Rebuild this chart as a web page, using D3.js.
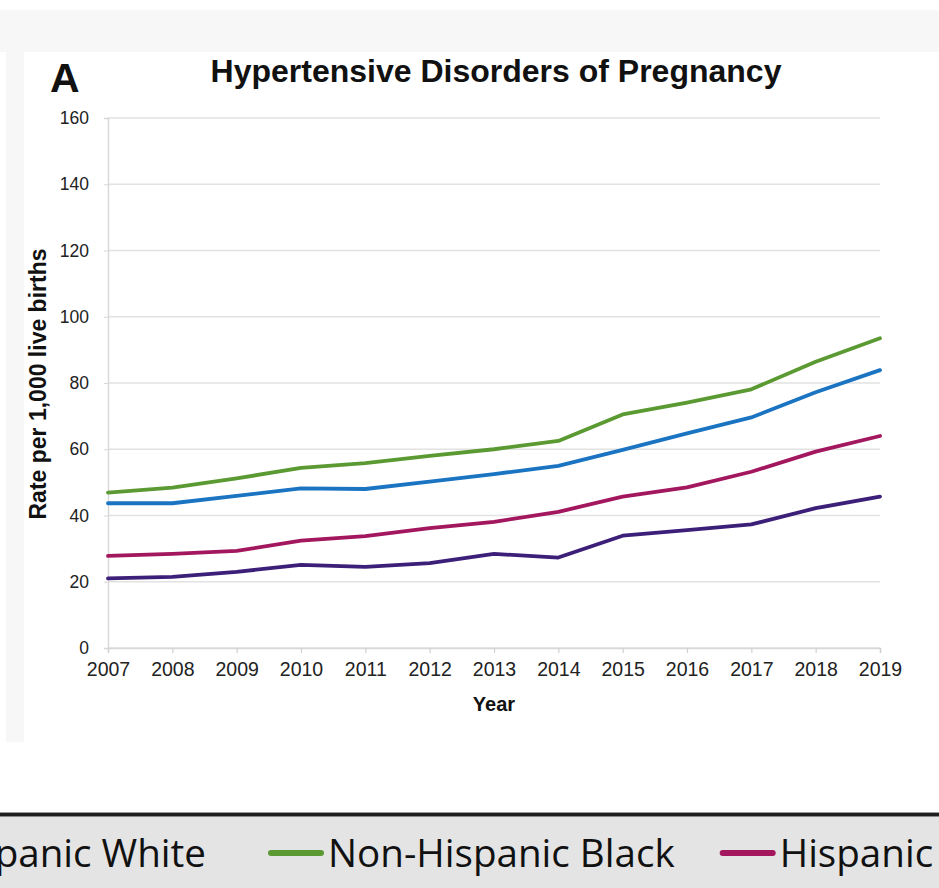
<!DOCTYPE html>
<html>
<head>
<meta charset="utf-8">
<script src="https://cdn.jsdelivr.net/npm/d3@7"></script>
<style>
  html, body { margin: 0; padding: 0; background: #ffffff; }
  svg { display: block; }
</style>
</head>
<body>
<svg id="chart" width="939" height="888"></svg>
<script>
// Rates of hypertensive disorders of pregnancy per 1,000 live births, by race/ethnicity
const years = [2007, 2008, 2009, 2010, 2011, 2012, 2013, 2014, 2015, 2016, 2017, 2018, 2019];
const seriesNames = ["Non-Hispanic White", "Non-Hispanic Black", "Hispanic", "Non-Hispanic Asian"];
const whiteRates    = [43.7, 43.7, 45.9, 48.2, 48.0, 50.2, 52.5, 55.0, 59.8, 64.8, 69.6, 77.2, 83.9];
const blackRates    = [46.9, 48.4, 51.2, 54.4, 55.8, 58.0, 60.0, 62.5, 70.5, 74.1, 78.1, 86.4, 93.5];
const hispanicRates = [27.8, 28.4, 29.3, 32.4, 33.8, 36.2, 38.1, 41.1, 45.7, 48.5, 53.2, 59.3, 64.0];
const asianRates    = [21.0, 21.5, 23.0, 25.1, 24.5, 25.6, 28.4, 27.3, 33.9, 35.6, 37.3, 42.2, 45.7];
const seriesColors  = ["#1a74c2", "#5b9a32", "#a3175e", "#3c1f78"];
const yTicks = [0, 20, 40, 60, 80, 100, 120, 140, 160];

const svg = d3.select("#chart");
const W = 939, H = 888;

// page backdrop: pale grey frame around the white panel, legend strip at the bottom
svg.append("rect").attr("x", 0).attr("y", 0).attr("width", W).attr("height", H).attr("fill", "#ffffff");
svg.append("rect").attr("x", 0).attr("y", 10).attr("width", W).attr("height", 42).attr("fill", "#f7f7f7");
svg.append("rect").attr("x", 6).attr("y", 52).attr("width", 18).attr("height", 690).attr("fill", "#f7f7f7");

const legendTop = 812;
svg.append("rect").attr("x", 0).attr("y", legendTop).attr("width", W).attr("height", H - legendTop).attr("fill", "#e4e4e4");
svg.append("rect").attr("x", 0).attr("y", legendTop).attr("width", W).attr("height", 1).attr("fill", "#9a9a9a");
svg.append("rect").attr("x", 0).attr("y", legendTop + 1).attr("width", W).attr("height", 3).attr("fill", "#1e1e1e");
svg.append("rect").attr("x", 0).attr("y", legendTop + 4).attr("width", W).attr("height", 1).attr("fill", "#8a8a8a");

// scales
const x = d3.scaleLinear().domain([2007, 2019]).range([108, 880]);
const y = d3.scaleLinear().domain([0, 160]).range([648, 118]);

const plot = svg.append("g");

// horizontal gridlines
plot.append("g")
  .selectAll("line")
  .data(yTicks)
  .join("line")
  .attr("x1", x(2007)).attr("x2", x(2019))
  .attr("y1", d => y(d)).attr("y2", d => y(d))
  .attr("stroke", "#e2e2e2").attr("stroke-width", 1.6);

// y axis
const yAxis = plot.append("g")
  .attr("transform", `translate(${x(2007)},0)`)
  .call(d3.axisLeft(y).tickValues(yTicks).tickSize(4).tickPadding(15));
yAxis.select(".domain").attr("stroke", "#d8d8d8").attr("stroke-width", 1.4);
yAxis.selectAll(".tick line").attr("stroke", "#d8d8d8");
yAxis.selectAll("text")
  .attr("font-family", "'Liberation Sans', Arial, sans-serif")
  .attr("font-size", 17.5).attr("fill", "#222");

// x axis
const xAxis = plot.append("g")
  .attr("transform", `translate(0,${y(0)})`)
  .call(d3.axisBottom(x).tickValues(years).tickFormat(d3.format("d")).tickSize(5).tickPadding(9));
xAxis.select(".domain").attr("stroke", "#d8d8d8").attr("stroke-width", 1.4);
xAxis.selectAll(".tick line").attr("stroke", "#d0d0d0").attr("stroke-width", 1.2);
xAxis.selectAll("text")
  .attr("font-family", "'Liberation Sans', Arial, sans-serif")
  .attr("font-size", 19.5).attr("fill", "#222");

// series lines
const allRates = [whiteRates, blackRates, hispanicRates, asianRates];
const line = d3.line().x((d, i) => x(years[i])).y(d => y(d));
plot.append("g")
  .selectAll("path")
  .data(allRates)
  .join("path")
  .attr("d", d => line(d))
  .attr("fill", "none")
  .attr("stroke", (d, i) => seriesColors[i])
  .attr("stroke-width", 3.8)
  .attr("stroke-linejoin", "round")
  .attr("stroke-linecap", "round");

// titles
svg.append("text")
  .attr("x", 50).attr("y", 92)
  .attr("font-family", "'Liberation Sans', Arial, sans-serif")
  .attr("font-weight", "bold").attr("font-size", 41).attr("fill", "#111")
  .text("A");

svg.append("text")
  .attr("x", 496).attr("y", 82)
  .attr("text-anchor", "middle")
  .attr("font-family", "'Liberation Sans', Arial, sans-serif")
  .attr("font-weight", "bold").attr("font-size", 32).attr("fill", "#111")
  .text("Hypertensive Disorders of Pregnancy");

svg.append("text")
  .attr("x", 494).attr("y", 711)
  .attr("text-anchor", "middle")
  .attr("font-family", "'Liberation Sans', Arial, sans-serif")
  .attr("font-weight", "bold").attr("font-size", 20).attr("fill", "#111")
  .text("Year");

svg.append("text")
  .attr("transform", "translate(46,384) rotate(-90)")
  .attr("text-anchor", "middle")
  .attr("font-family", "'Liberation Sans', Arial, sans-serif")
  .attr("font-weight", "bold").attr("font-size", 23).attr("fill", "#111")
  .text("Rate per 1,000 live births");

// legend row, laid out left to right; the first entry starts off the left edge
const legend = svg.append("g");
const swatchW = 56, swatchGap = 4, legendBaseline = 867;
const itemGaps = [62, 45, 45];
const legendFont = "'Open Sans', sans-serif", legendSize = 38.6;
const measure = svg.append("text")
  .attr("font-family", legendFont).attr("font-size", legendSize)
  .attr("visibility", "hidden");
const widths = seriesNames.map(n => { measure.text(n); return measure.node().getComputedTextLength(); });
measure.remove();
// anchor the second entry's swatch at x = 268
let cursor = 268 - (swatchW + swatchGap + widths[0] + itemGaps[0]);
seriesNames.forEach((name, i) => {
  legend.append("line")
    .attr("x1", cursor + 3).attr("x2", cursor + swatchW - 3)
    .attr("y1", legendBaseline - 14).attr("y2", legendBaseline - 14)
    .attr("stroke", seriesColors[i]).attr("stroke-width", 6)
    .attr("stroke-linecap", "round");
  legend.append("text")
    .attr("x", cursor + swatchW + swatchGap).attr("y", legendBaseline)
    .attr("font-family", legendFont).attr("font-size", legendSize).attr("fill", "#111")
    .text(name);
  cursor += swatchW + swatchGap + widths[i] + (itemGaps[i] || 45);
});
</script>
</body>
</html>
